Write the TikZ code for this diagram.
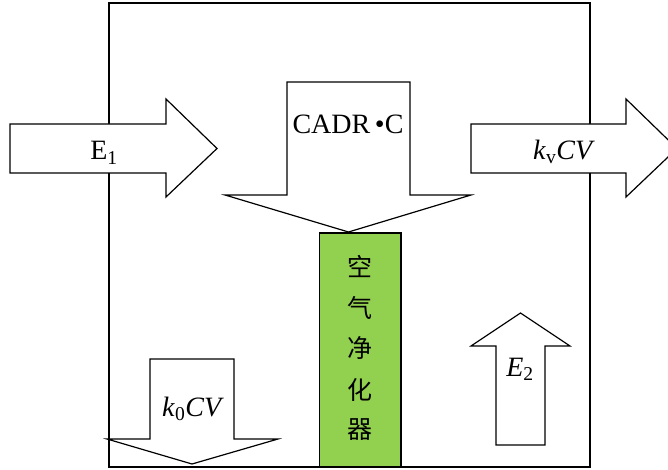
\documentclass[tikz,border=0pt]{standalone}
\usepackage{fontspec}
\setmainfont{Liberation Serif}
\newfontfamily\cjk{Noto Sans CJK SC}
\definecolor{purgreen}{RGB}{146,208,80}
\begin{document}
\begin{tikzpicture}[x=1pt,y=-1pt,line width=1.2pt,line join=miter,
  blockarrow/.style={draw=black,fill=white},
  lbl/.style={font=\fontsize{28}{30}\selectfont,inner sep=0pt,anchor=base},
  cjklbl/.style={font=\cjk\fontsize{25}{27}\selectfont,inner sep=0pt}]
\useasboundingbox (0,0) rectangle (668,470);
\clip (0,0) rectangle (668,470);
% room
\draw[fill=white] (109,3) rectangle (590,467);
% E1 arrow
\draw[blockarrow] (10,124) -- (166,124) -- (166,99) -- (217,148.5) -- (166,197) -- (166,173) -- (10,173) -- cycle;
% CADR arrow
\draw[blockarrow] (287,82) -- (410,82) -- (410,195) -- (471,195) -- (348.5,232) -- (225,195) -- (287,195) -- cycle;
% kvCV arrow
\draw[blockarrow] (471,124) -- (626,124) -- (626,99) -- (677,148.5) -- (626,197) -- (626,173) -- (471,173) -- cycle;
% k0CV arrow
\draw[blockarrow] (150,359) -- (234,359) -- (234,439) -- (278,439) -- (192,464) -- (107,439) -- (150,439) -- cycle;
% E2 arrow
\draw[blockarrow] (496,445) -- (496,346) -- (471,346) -- (520.5,313) -- (570,346) -- (545,346) -- (545,445) -- cycle;
% purifier
\draw[fill=purgreen] (319.5,233) rectangle (401,467);
% labels
\node[lbl] (e1) at (104,160) {E\textsubscript{1}};
\node[lbl] (cadr) at (348,134) {CADR\,•C};
\node[lbl] (kv) at (564,160) {\textit{k}\textsubscript{v}\textit{CV}};
\node[lbl] (k0) at (193,416) {\textit{k}\textsubscript{0}\textit{CV}};
\node[lbl] (e2) at (520,376) {\textit{E}\textsubscript{2}};
\node[cjklbl] (c1) at (360,266) {空};
\node[cjklbl] (c2) at (360,308) {气};
\node[cjklbl] (c3) at (360,348) {净};
\node[cjklbl] (c4) at (360,390) {化};
\node[cjklbl] (c5) at (360,430) {器};
\end{tikzpicture}
\end{document}
